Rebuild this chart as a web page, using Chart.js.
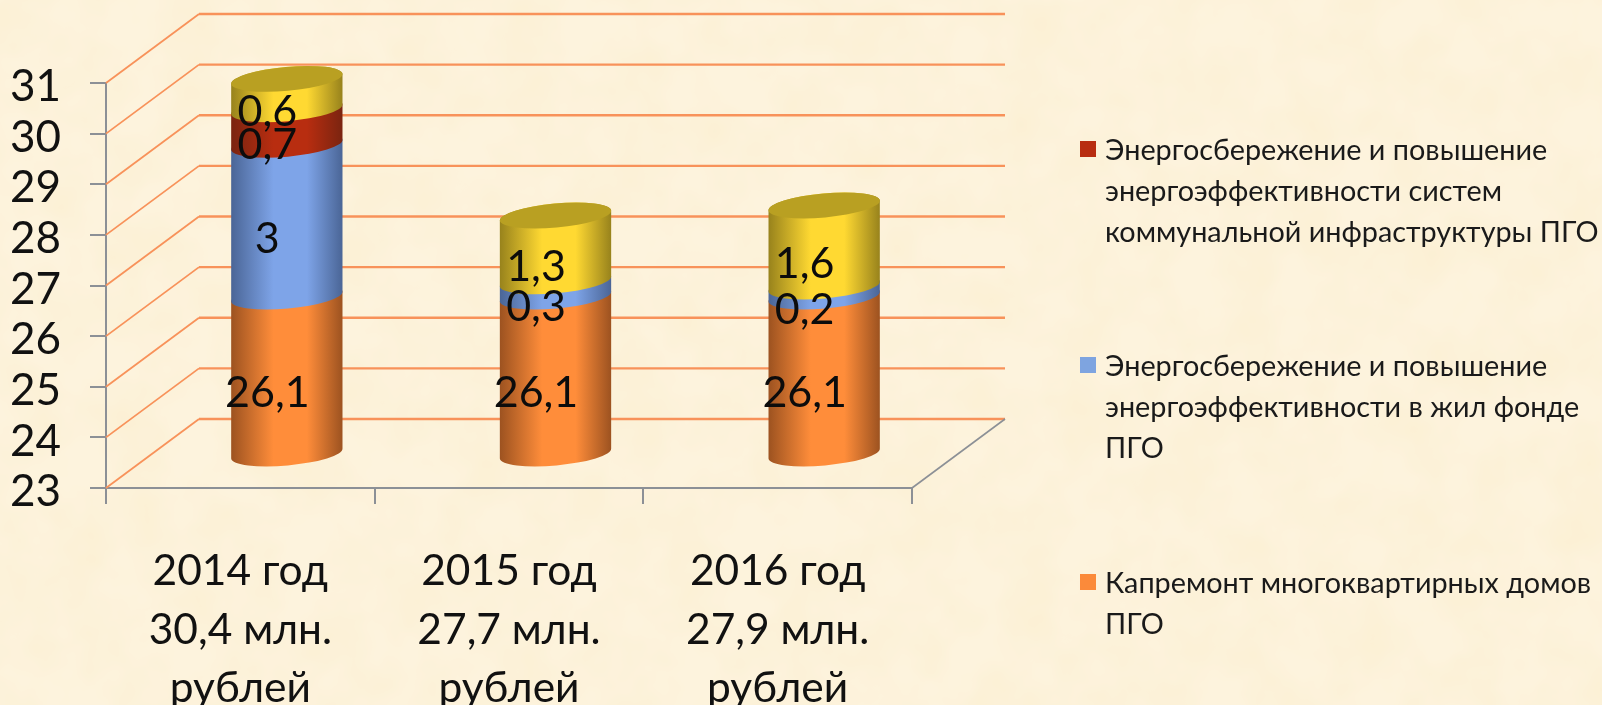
<!DOCTYPE html>
<html lang="ru">
<head>
<meta charset="utf-8">
<style>
    html, body { margin: 0; padding: 0; width: 1602px; height: 705px; overflow: hidden; }
    body {
        position: relative;
        background-color: #fdf3dd;
        background-image:
            url("data:image/svg+xml;utf8,<svg xmlns='http://www.w3.org/2000/svg' width='1602' height='705'><filter id='n'><feTurbulence type='fractalNoise' baseFrequency='0.018' numOctaves='3' seed='4'/><feColorMatrix values='0 0 0 0 0.95  0 0 0 0 0.84  0 0 0 0 0.58  0.75 0 0 0 -0.24'/></filter><rect width='1602' height='705' filter='url(%23n)'/></svg>");
    }
    canvas { position: absolute; left: 0; top: 0; }
    .legend-item { position: absolute; left: 1105px; font: 28.8px/40.8px Lato, "Noto Sans", sans-serif; color: #1a1a1a; white-space: nowrap; }
    .legend-box { position: absolute; left: 1080px; width: 16px; height: 16px; }
</style>
</head>
<body>
<canvas id="budgetChart" width="1602" height="705"></canvas>
<script src="https://cdn.jsdelivr.net/npm/chart.js@4"></script>
<script>
const categories = [
    ['2014 год', '30,4 млн.', 'рублей'],
    ['2015 год', '27,7 млн.', 'рублей'],
    ['2016 год', '27,9 млн.', 'рублей']
];
const kapremont = [26.1, 26.1, 26.1];
const zhilFond = [3, 0.3, 0.2];
const infrastruktura = [0.7, null, null];
const prochee = [0.6, 1.3, 1.6];

const legendRed = ['Энергосбережение и повышение', 'энергоэффективности систем', 'коммунальной инфраструктуры ПГО'];
const legendBlue = ['Энергосбережение и повышение', 'энергоэффективности в жил фонде', 'ПГО'];
const legendOrange = ['Капремонт многоквартирных домов', 'ПГО'];

const FONT = 'Lato, "Noto Sans", sans-serif';
const DEPTH_X = 93;
const DEPTH_Y = -69;

//Horizontal shading of the cylinders: edge colour, middle colour
const shades = [
    ['#9c5220', '#ff8d3a'],
    ['#4a6596', '#7ea4e8'],
    ['#7a2410', '#b82d10'],
    ['#97821c', '#ffd932']
];
const capColor = '#b9a022';

function shadeFill(ctx, left, right, shade){
    const fill = ctx.createLinearGradient(left, 0, right, 0);
    fill.addColorStop(0, shade[0]);
    fill.addColorStop(0.38, shade[1]);
    fill.addColorStop(0.68, shade[1]);
    fill.addColorStop(1, shade[0]);
    return fill;
}

function drawWalls(chart){
    const {ctx, chartArea, scales} = chart;
    ctx.save();
    ctx.strokeStyle = '#f8925a';
    scales.y.ticks.forEach(tick => {
        const y = scales.y.getPixelForValue(tick.value);
        ctx.lineWidth = 1.8;
        ctx.beginPath();
        ctx.moveTo(chartArea.left, y);
        ctx.lineTo(chartArea.left + DEPTH_X, y + DEPTH_Y);
        ctx.stroke();
        ctx.lineWidth = 2.4;
        ctx.beginPath();
        ctx.moveTo(chartArea.left + DEPTH_X, y + DEPTH_Y);
        ctx.lineTo(chartArea.right + DEPTH_X, y + DEPTH_Y);
        ctx.stroke();
    });
    //Floor edge on the right
    ctx.strokeStyle = '#8c9096';
    ctx.lineWidth = 1.6;
    ctx.beginPath();
    ctx.moveTo(chartArea.right, chartArea.bottom);
    ctx.lineTo(chartArea.right + DEPTH_X, chartArea.bottom + DEPTH_Y);
    ctx.stroke();
    ctx.restore();
}

function drawCylinders(chart){
    const {ctx, scales} = chart;
    const tilt = -0.09;
    const minor = 12;
    categories.forEach((category, index) => {
        let topSegment = null;
        let radius = 0;
        chart.data.datasets.forEach((dataset, datasetIndex) => {
            const bar = chart.getDatasetMeta(datasetIndex).data[index];
            if(dataset.data[index] == null){
                return;
            }
            const cx = bar.x + DEPTH_X / 2;
            const bottom = Math.min(bar.base, scales.y.bottom) + DEPTH_Y / 2;
            const top = bar.y + DEPTH_Y / 2;
            radius = bar.width / 2;
            ctx.beginPath();
            ctx.ellipse(cx, bottom, radius, minor, tilt, 0, Math.PI, false);
            ctx.ellipse(cx, top, radius, minor, tilt, Math.PI, Math.PI * 2, false);
            ctx.closePath();
            ctx.fillStyle = shadeFill(ctx, cx - radius, cx + radius, shades[datasetIndex]);
            ctx.fill();
            topSegment = {cx, top};
        });
        //Lid of the cylinder
        ctx.beginPath();
        ctx.ellipse(topSegment.cx, topSegment.top, radius, minor, tilt, 0, Math.PI * 2);
        ctx.fillStyle = capColor;
        ctx.fill();
    });
}

function drawValueLabels(chart){
    const {ctx} = chart;
    ctx.save();
    ctx.font = '43px ' + FONT;
    ctx.fillStyle = '#0c0c0c';
    ctx.textAlign = 'center';
    ctx.textBaseline = 'middle';
    chart.data.datasets.forEach((dataset, datasetIndex) => {
        chart.getDatasetMeta(datasetIndex).data.forEach((bar, index) => {
            const value = dataset.data[index];
            if(value == null){
                return;
            }
            const base = Math.min(bar.base, chart.scales.y.bottom);
            ctx.fillText(String(value).replace('.', ','), bar.x + 27, (bar.y + base) / 2 - 16);
        });
    });
    ctx.restore();
}

const cylinderPlugin = {
    id: 'cylinder',
    beforeDatasetsDraw(chart){
        drawWalls(chart);
        drawCylinders(chart);
        drawValueLabels(chart);
        //The flat bars are replaced by the cylinders
        return false;
    }
};

const canvas = document.getElementById('budgetChart').getContext('2d');
const config = {
    type: 'bar',
    data: {
        labels: categories,
        datasets: [
            {label: legendOrange.join(' '), data: kapremont, backgroundColor: '#fb8a3a'},
            {label: legendBlue.join(' '), data: zhilFond, backgroundColor: '#7ea4e0'},
            {label: legendRed.join(' '), data: infrastruktura, backgroundColor: '#b82d10'},
            {label: '', data: prochee, backgroundColor: '#ffd932'}
        ]
    },
    options: {
        responsive: false,
        animation: false,
        events: [],
        barPercentage: 0.416,
        categoryPercentage: 1,
        layout: {
            padding: {left: 0, top: 83, right: 690, bottom: 0}
        },
        plugins: {
            legend: {display: false},
            tooltip: {enabled: false}
        },
        scales: {
            x: {
                stacked: true,
                afterFit(scale){ scale.height = 217; },
                border: {color: '#8c9096', width: 2},
                grid: {drawOnChartArea: false, color: '#8c9096', lineWidth: 2, tickLength: 16},
                ticks: {
                    color: '#111',
                    font: {family: FONT, size: 42.5, lineHeight: 1.38},
                    padding: 38,
                    maxRotation: 0,
                    autoSkip: false
                }
            },
            y: {
                stacked: true,
                min: 23,
                max: 31,
                afterFit(scale){ scale.width = 106; },
                border: {color: '#8c9096', width: 2},
                grid: {drawOnChartArea: false, color: '#8c9096', lineWidth: 2, tickLength: 16},
                ticks: {
                    stepSize: 1,
                    autoSkip: false,
                    color: '#111',
                    font: {family: FONT, size: 44},
                    padding: 29,
                    labelOffset: 4
                }
            }
        }
    },
    plugins: [cylinderPlugin]
};
new Chart(canvas, config);

//Legend has three entries, the yellow series has none in the picture
function addLegend(lines, color, top){
    const box = document.createElement('div');
    box.className = 'legend-box';
    box.style.top = (top - 9) + 'px';
    box.style.background = color;
    document.body.appendChild(box);
    const item = document.createElement('div');
    item.className = 'legend-item';
    item.style.top = (top - 21) + 'px';
    item.innerHTML = lines.join('<br>');
    document.body.appendChild(item);
}
addLegend(legendRed, '#b82d10', 150);
addLegend(legendBlue, '#7ea4e0', 366);
addLegend(legendOrange, '#fb8a3a', 583);
</script>
</body>
</html>
